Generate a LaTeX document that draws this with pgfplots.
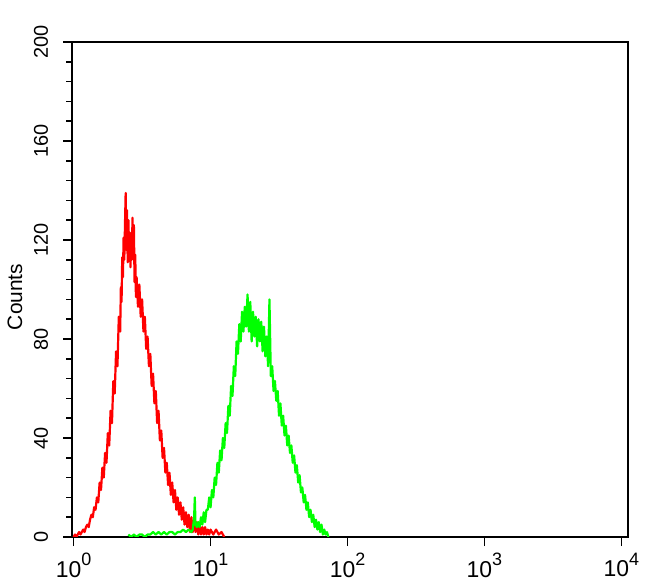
\documentclass[border=0pt]{standalone}
\usepackage{fontspec}
\setmainfont{Liberation Sans}
\usepackage{pgfplots}
\usepackage{pgfplotstable}
\pgfplotsset{compat=1.18}
\definecolor{fred}{RGB}{255,0,0}
\definecolor{fgreen}{RGB}{0,255,0}
\newcommand{\sups}[1]{\raisebox{0.5em}{\fontsize{9}{10}\selectfont #1}}

\pgfplotstableread{
l c
0.00 0
0.01 1
0.02 0
0.03 1
0.04 2
0.05 1
0.06 2
0.07 3
0.08 2
0.09 4
0.10 5
0.11 4
0.12 7
0.13 9
0.14 8
0.15 12
0.16 11
0.17 16
0.18 14
0.19 22
0.20 19
0.21 28
0.22 24
0.23 34
0.24 30
0.25 42
0.26 37
0.27 51
0.28 46
0.29 63
0.30 58
0.31 75
0.32 69
0.33 89
0.34 83
0.345 101
0.35 95
0.355 113
0.36 105
0.365 121
0.37 112
0.375 126
0.38 139
0.385 116
0.39 132
0.395 111
0.40 128
0.405 114
0.41 123
0.415 109
0.42 120
0.425 112
0.43 129
0.435 115
0.44 126
0.445 103
0.45 114
0.455 97
0.46 105
0.47 93
0.48 102
0.49 89
0.50 96
0.51 83
0.52 89
0.53 76
0.54 81
0.55 69
0.56 74
0.57 61
0.58 66
0.59 54
0.60 59
0.61 46
0.62 51
0.63 39
0.64 43
0.65 32
0.66 36
0.67 26
0.68 30
0.69 21
0.70 26
0.71 17
0.72 22
0.73 14
0.74 19
0.75 11
0.76 16
0.77 9
0.78 14
0.79 7
0.80 12
0.81 5
0.82 10
0.83 4
0.84 9
0.85 2
0.86 8
0.87 2
0.88 7
0.89 2
0.90 6
0.91 1
0.92 5
0.93 1
0.94 4
0.95 1
0.96 4
0.97 1
0.98 3
0.99 1
1.00 3
1.02 1
1.04 3
1.06 1
1.08 2
1.10 0
}\redtable

\pgfplotstableread{
l c
0.40 1
0.42 0
0.44 1
0.46 0
0.48 1
0.50 1
0.52 0
0.54 1
0.56 1
0.58 2
0.60 1
0.62 2
0.64 1
0.66 2
0.68 1
0.70 2
0.72 2
0.74 1
0.76 2
0.78 2
0.80 3
0.82 2
0.84 3
0.86 2
0.87 3
0.88 8
0.885 16
0.89 5
0.90 4
0.91 6
0.92 4
0.93 8
0.94 5
0.95 10
0.96 6
0.97 11
0.98 11
0.99 16
1.00 12
1.01 19
1.02 16
1.03 24
1.04 21
1.05 30
1.06 26
1.07 35
1.08 31
1.09 40
1.10 36
1.11 46
1.12 42
1.13 53
1.14 49
1.15 61
1.16 57
1.17 69
1.18 65
1.19 79
1.20 74
1.21 86
1.22 79
1.23 91
1.24 83
1.25 93
1.26 85
1.27 98
1.28 83
1.29 95
1.30 79
1.31 91
1.32 81
1.33 89
1.34 77
1.35 88
1.36 79
1.37 87
1.38 75
1.39 85
1.40 73
1.41 81
1.42 69
1.43 96
1.44 65
1.45 69
1.46 59
1.47 63
1.48 55
1.49 59
1.50 49
1.51 54
1.52 45
1.53 49
1.54 41
1.55 45
1.56 37
1.57 41
1.58 34
1.59 37
1.60 30
1.61 33
1.62 26
1.63 29
1.64 22
1.65 25
1.66 18
1.67 20
1.68 14
1.69 17
1.70 11
1.71 14
1.72 8
1.73 11
1.74 6
1.75 9
1.76 4
1.77 7
1.78 3
1.79 6
1.80 2
1.81 5
1.82 1
1.83 3
1.84 1
1.85 2
1.86 0
}\greentable

\begin{document}
\begin{tikzpicture}
\begin{axis}[
  scale only axis,
  width=278bp, height=247.5bp,
  xmode=log, log basis x=10,
  xmin=0.973, xmax=11170,
  ymin=0, ymax=200,
  axis line style={line width=0.9bp, black},
  xtick={1,10,100,1000,10000},
  xticklabels={10\sups{0},10\sups{1},10\sups{2},10\sups{3},10\sups{4}},
  ytick={0,40,80,120,160,200},
  minor y tick num=4,
  tick align=outside,
  xtick pos=bottom, ytick pos=left,
  major tick length=4.5bp, minor tick length=3bp,
  every tick/.style={black, line width=0.8bp},
  tick label style={font=\fontsize{11}{12}\selectfont},
  xticklabel style={font=\fontsize{11.5}{12}\selectfont},
  yticklabel style={rotate=90, anchor=south, font=\fontsize{10}{12}\selectfont},
  yticklabel shift=4bp,
  /pgf/number format/assume math mode=true,
  ylabel={Counts},
  ylabel style={at={(axis description cs:-0.1025,0.485)}, anchor=center, font=\fontsize{10.5}{12}\selectfont},
  clip=true,
]
\addplot[fred, line width=1.1bp, line join=round] table[x expr=10^\thisrow{l}, y=c] {\redtable};
\addplot[fgreen, line width=1.1bp, line join=round] table[x expr=10^\thisrow{l}, y=c] {\greentable};
\end{axis}
\pgfresetboundingbox
\path ([shift={(-36bp,-24bp)}]current axis.south west) rectangle ([shift={(11bp,21bp)}]current axis.north east);
\end{tikzpicture}
\end{document}
